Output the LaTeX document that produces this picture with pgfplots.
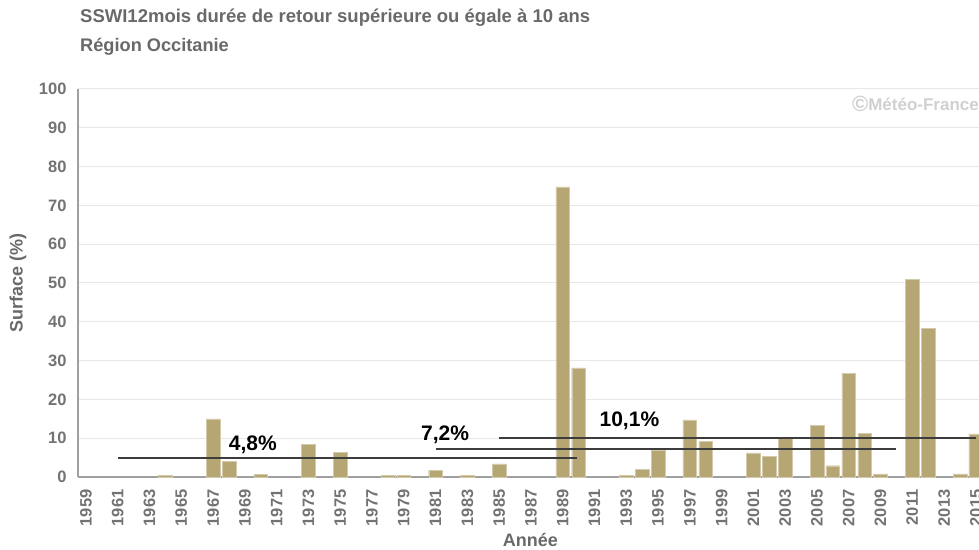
\documentclass[border=0pt]{standalone}
\usepackage{pgfplots}
\pgfplotsset{compat=1.18}
\usepackage{fontspec}
\setmainfont{Liberation Sans}
\definecolor{barc}{RGB}{181,166,116}
\definecolor{txtg}{RGB}{105,105,105}
\definecolor{tickg}{RGB}{115,115,115}
\definecolor{gridc}{RGB}{232,232,232}
\definecolor{axc}{RGB}{160,160,160}
\definecolor{meanc}{RGB}{60,60,60}
\begin{document}
\begin{tikzpicture}
\useasboundingbox (-78bp,-73bp) rectangle (901bp,477bp);
\begin{axis}[
  scale only axis, width=901bp, height=388bp,
  at={(0,0)}, anchor=south west,
  xmin=1958.5, xmax=2015.2, ymin=0, ymax=100,
  axis x line*=bottom, axis y line*=left,
  axis line style={axc, line width=1.5bp},
  every outer x axis line/.append style={-}, every outer y axis line/.append style={-},
  xtick={1959,1961,...,2015}, ytick={0,10,...,100},
  major tick length=0,
  ymajorgrids, grid style={gridc, line width=1bp},
  /pgf/number format/1000 sep={},
  /pgf/number format/assume math mode=true,
  tick label style={font=\fontsize{16.5bp}{18bp}\selectfont\bfseries, text=tickg},
  xticklabel style={rotate=90, anchor=east, xshift=-9bp},
  yticklabel style={xshift=-8bp},
  xlabel={Année}, ylabel={Surface (\%)},
  every axis x label/.style={at={(axis description cs:0.502,-0.162)}, anchor=center, font=\fontsize{18bp}{20bp}\selectfont\bfseries, text=txtg},
  every axis y label/.style={at={(axis description cs:-0.0666,0.5)}, rotate=90, anchor=center, font=\fontsize{18bp}{20bp}\selectfont\bfseries, text=txtg},
  clip=true,
]
\addplot[ybar, bar width=0.86, fill=barc, draw=barc!60!white, line width=0.4bp] coordinates {
 (1964,0.5) (1967,15) (1968,4) (1970,0.6) (1973,8.5) (1975,6.4)
 (1978,0.5) (1979,0.5) (1981,1.8) (1983,0.5) (1985,3.4)
 (1989,74.8) (1990,28.1) (1993,0.5) (1994,2) (1995,7.0)
 (1997,14.7) (1998,9.2) (2001,6.2) (2002,5.4) (2003,10.3)
 (2005,13.4) (2006,2.9) (2007,26.8) (2008,11.3) (2009,0.8)
 (2011,51) (2012,38.4) (2014,0.8) (2015,11.1)
};
\addplot[meanc, line width=2.2bp] coordinates {(1961,4.8) (1989.9,4.8)};
\addplot[meanc, line width=2.2bp] coordinates {(1981,7.2) (2010,7.2)};
\addplot[meanc, line width=2.2bp] coordinates {(1985,10.1) (2015,10.1)};
\node[font=\fontsize{21bp}{24bp}\selectfont\bfseries, text=black] at (axis cs:1969.5,8.2) {4,8\%};
\node[font=\fontsize{21bp}{24bp}\selectfont\bfseries, text=black] at (axis cs:1981.6,10.8) {7,2\%};
\node[font=\fontsize{21bp}{24bp}\selectfont\bfseries, text=black] at (axis cs:1993.2,14.4) {10,1\%};
\node[font=\fontsize{17bp}{18bp}\selectfont\bfseries, text={rgb,255:red,208;green,208;blue,208}, anchor=east, inner sep=0pt] at (axis cs:2015.2,96.1) {{\fontsize{22bp}{22bp}\selectfont\raisebox{-1.5bp}{\textcopyright}}Météo-France};
\end{axis}
\node[anchor=west, inner sep=0pt, font=\fontsize{18.5bp}{20bp}\selectfont\bfseries, text=txtg] at (2bp,459bp) {SSWI12mois durée de retour supérieure ou égale à 10 ans};
\node[anchor=west, inner sep=0pt, font=\fontsize{18.2bp}{20bp}\selectfont\bfseries, text=txtg] at (2bp,430bp) {Région Occitanie};
\end{tikzpicture}
\end{document}
